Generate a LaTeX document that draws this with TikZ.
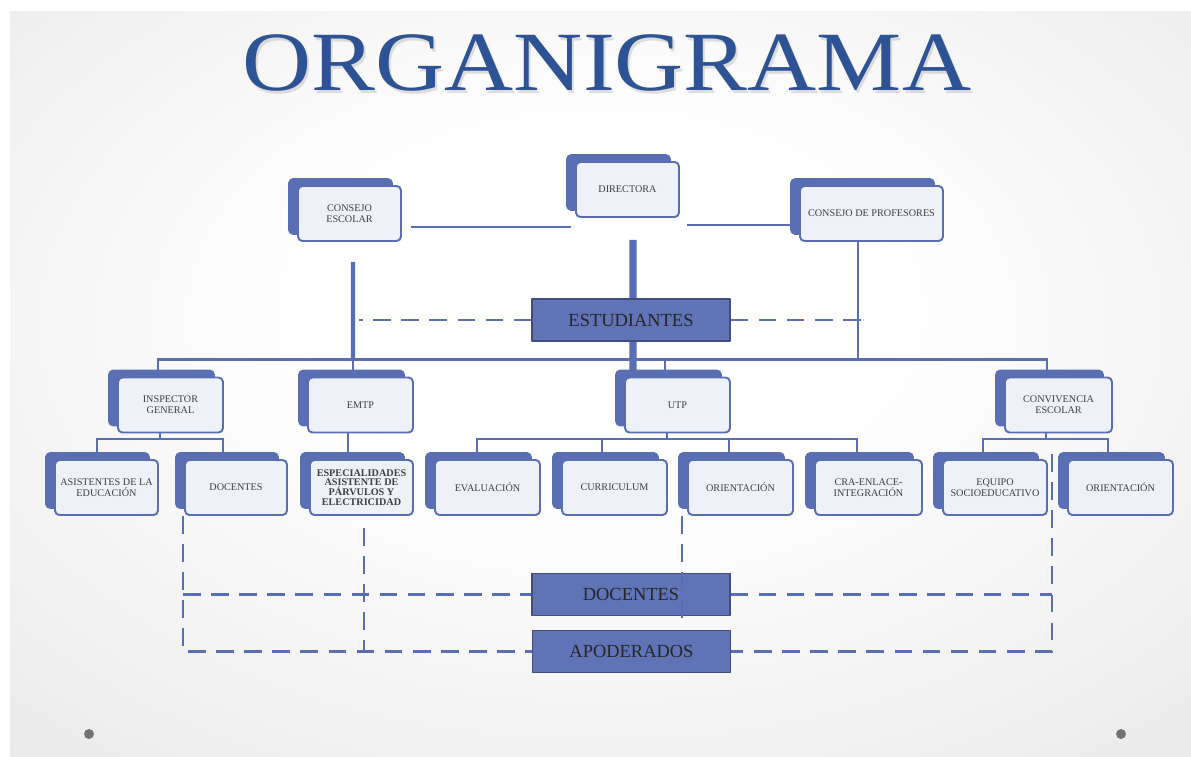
\documentclass[tikz,border=0pt]{standalone}
\usepackage{fontspec}
\setmainfont{Liberation Serif}
\usetikzlibrary{calc,shadows}
\definecolor{azul}{HTML}{5A6EB4}
\definecolor{azulclaro}{HTML}{EEF1F8}
\definecolor{barra}{HTML}{5F73B6}
\definecolor{barraborde}{HTML}{404E80}
\definecolor{titulo}{HTML}{2E5395}
\definecolor{fondoA}{HTML}{FFFFFF}
\definecolor{fondoB}{HTML}{EFEFEF}
\definecolor{fondoC}{HTML}{DDDDDD}
\definecolor{fondoD}{HTML}{CECECE}
\pgfdeclareradialshading{fondo}{\pgfpoint{0bp}{6bp}}{color(0bp)=(fondoA); color(12bp)=(fondoA); color(32bp)=(fondoB); color(50bp)=(fondoC); color(75bp)=(fondoD)}
\pgfdeclarelayer{fondo}
\pgfdeclarelayer{background}
\pgfsetlayers{fondo,background,main}
\begin{document}
\begin{tikzpicture}[x=0.02cm, y=-0.02cm, line join=round,
	caja/.style={draw=azul, line width=1.1pt, fill=azulclaro, rounded corners=2.5pt, minimum width=#1*0.02cm, minimum height=1.1cm, inner sep=1pt, align=center, text=black!75, font=\fontsize{5.8}{6.2}\selectfont, copy shadow={shadow xshift=-0.18cm, shadow yshift=0.14cm, fill=azul, draw=azul}},
	caja/.default=103,
	barra/.style={draw=barraborde, line width=0.8pt, fill=barra, minimum width=3.96cm, minimum height=0.84cm, text=black!85, font=\fontsize{10.5}{12}\selectfont},
	linea/.style={draw=azul, line width=1.6pt},
	medio/.style={draw=azul, line width=2.4pt},
	grueso/.style={draw=azul, line width=4pt},
	fino/.style={draw=azul, line width=1.1pt},
	guion/.style={draw=azul, line width=1.3pt, dash pattern=on 10pt off 6pt},
	rotulo/.style={font=\fontsize{48}{48}\selectfont, xscale=1.135, anchor=base}]
	\useasboundingbox (0,0) rectangle (1191,757);
	\begin{pgfonlayer}{fondo}
		\shade[shading=fondo] (10,12) rectangle (1191,757);
		\fill[black!55] (89,734) circle[radius=0.1cm];
		\fill[black!55] (1121,734) circle[radius=0.1cm];
	\end{pgfonlayer}
	% titulo
	\node[rotulo, text=black!40, opacity=.3] (sombra) at (609,94) {ORGANIGRAMA};
	\node[rotulo, text=titulo] (titulo) at (607,91) {ORGANIGRAMA};
	% nivel 1
	\node[caja] (dir) at (627.5,189.5) {DIRECTORA};
	\node[caja] (conEsc) at (349.5,213.5) {CONSEJO\\ESCOLAR};
	\node[caja=143] (conProf) at (871.5,213.5) {CONSEJO DE PROFESORES};
	\node[barra] (est) at (631,320) {ESTUDIANTES};
	% nivel 2
	\node[caja=105] (insp) at (170.5,405) {INSPECTOR\\GENERAL};
	\node[caja=105] (emtp) at (360.5,405) {EMTP};
	\node[caja=105] (utp) at (677.5,405) {UTP};
	\node[caja=107] (conv) at (1058.5,405) {CONVIVENCIA\\ESCOLAR};
	% nivel 3
	\node[caja] (asis) at (106.5,487.5) {ASISTENTES DE LA\\EDUCACIÓN};
	\node[caja=102] (doc) at (236,487.5) {DOCENTES};
	\node[caja, font=\fontsize{5.8}{5.6}\selectfont\bfseries] (espe) at (361.5,487.5) {ESPECIALIDADES\\ASISTENTE DE\\PÁRVULOS Y\\ELECTRICIDAD};
	\node[caja=105] (eval) at (487.5,487.5) {EVALUACIÓN};
	\node[caja=105] (curr) at (614.5,487.5) {CURRICULUM};
	\node[caja=105] (ori) at (740.5,487.5) {ORIENTACIÓN};
	\node[caja=107] (cra) at (868.5,487.5) {CRA-ENLACE-\\INTEGRACIÓN};
	\node[caja=104] (equ) at (995,487.5) {EQUIPO\\SOCIOEDUCATIVO};
	\node[caja=105] (ori2) at (1120.5,487.5) {ORIENTACIÓN};
	\node[barra] (docB) at (631,594.5) {DOCENTES};
	\node[barra] (apo) at (631.5,651.5) {APODERADOS};
	\begin{pgfonlayer}{background}
		\draw[linea] ($(conEsc.east)+(9,13.5)$) -- ++(160,0);
		\draw[linea] ($(dir.south east)+(7,7)$) -- ++(106,0);
		\draw[grueso] ($(dir.south)+(5.5,22)$) -- ($(utp.north)+(-44.5,0)$);
		\draw[medio] ($(conEsc.south)+(3.5,20)$) -- ($(emtp.north)+(-7.5,-17)$);
		\draw[linea] ($(conProf.south)+(-13.5,0)$) -- ++(0,118);
		\draw[linea] ($(insp.north)+(-12.5,0)$) -- ++(0,-17) -| ($(conv.north)+(-11.5,0)$);
		\draw[linea] ($(emtp.north)+(-7.5,0)$) -- ++(0,-17);
		\draw[linea] ($(utp.north)+(-12.5,0)$) -- ++(0,-17);
		% ramas
		\draw[fino] ($(insp.south)+(-10.5,0)$) -- ++(0,7);
		\draw[fino] ($(asis.north)+(-9.5,0)$) -- ++(0,-20) -| ($(doc.north)+(-13,0)$);
		\draw[fino] ($(emtp.south)+(-12.5,0)$) -- ($(espe.north)+(-13.5,0)$);
		\draw[fino] ($(utp.south)+(-10.5,0)$) -- ++(0,7);
		\draw[fino] ($(eval.north)+(-10.5,0)$) -- ++(0,-20) -| ($(cra.north)+(-11.5,0)$);
		\foreach \n/\d in {curr/-12.5, ori/-11.5}
			\draw[fino] ($(\n.north)+(\d,0)$) -- ++(0,-20);
		\draw[fino] ($(conv.south)+(-12.5,0)$) -- ++(0,7);
		\draw[fino] ($(equ.north)+(-12,0)$) -- ++(0,-20) -| ($(ori2.north)+(-12.5,0)$);
		% lineas punteadas
		\draw[guion] (est.west) -- ++(-172,0);
		\draw[guion] (est.east) -- ++(130,0);
		\coordinate (dizq) at ($(doc.south west)+(-1,0)$);
		\coordinate (dder) at ($(equ.north east)+(4,-5)$);
		\draw[guion] (dizq) |- (apo.west);
		\draw[guion] (dizq |- docB.west) -- (docB.west);
		\draw[guion] ($(espe.south)+(2.5,12)$) -- ($(espe.south |- apo.west)+(2.5,0)$);
		\draw[guion] (dder) |- (apo.east);
		\draw[guion] (docB.east) -- (docB.east -| dder);
	\end{pgfonlayer}
	\draw[guion] ($(ori.south west)+(-5,0)$) -- ++(0,107);
\end{tikzpicture}
\end{document}
